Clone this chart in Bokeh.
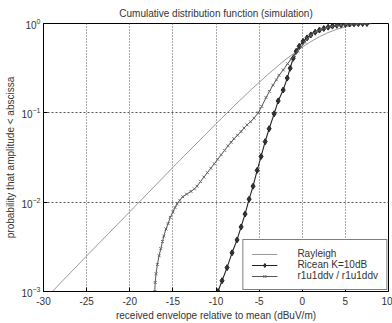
from bokeh.plotting import figure
from bokeh.models import FixedTicker, Range1d, Legend, LegendItem, LogTickFormatter
from bokeh.embed import file_html
from bokeh.resources import INLINE

# Rayleigh reference CDF (envelope relative to its mean, dB)
rayleigh_db = [-30, -25, -20, -15, -10, -8, -6, -4, -2, 0, 1, 2, 3, 4, 5, 6, 7, 8]
rayleigh_p = [0.00079, 0.0025, 0.0078, 0.0245, 0.0755, 0.117, 0.179, 0.268, 0.391,
              0.544, 0.628, 0.712, 0.791, 0.861, 0.917, 0.956, 0.980, 0.993]

# Ricean K=10dB CDF
ricean_db = [-9.77, -9.3, -8.72, -8.14, -7.56, -7.09, -6.63, -6.16, -5.7, -5.23, -4.77,
             -4.3, -3.84, -3.26, -2.79, -2.21, -1.74, -1.4, -1.05, -0.7, -0.35, 0.1,
             0.55, 1.0, 1.5, 2.0, 2.5, 3.0, 3.5, 4.0, 4.5, 5.0, 5.5, 6.0, 6.5, 7.0, 7.5]
ricean_p = [0.0010, 0.00132, 0.00185, 0.00271, 0.00378, 0.00528, 0.00736, 0.0108,
            0.0151, 0.0227, 0.0325, 0.0476, 0.0664, 0.0975, 0.136, 0.180, 0.245, 0.316,
            0.408, 0.489, 0.555, 0.631, 0.69, 0.745, 0.80, 0.845, 0.88, 0.91, 0.935,
            0.955, 0.968, 0.979, 0.987, 0.993, 0.997, 0.999, 1.0]

# measured r1u1ddv / r1u1ddv CDF
meas_db = [-17.1, -17.05, -16.95, -16.8, -16.6, -16.4, -16.2, -16.05, -15.8, -15.55,
           -15.3, -15.0, -14.75, -14.5, -14.2, -13.85, -13.4, -12.9, -12.5, -12.2,
           -11.8, -11.4, -11.0, -10.6, -10.2, -9.8, -9.4, -9.0, -8.6, -8.25, -7.9,
           -7.5, -7.1, -6.75, -6.4, -6.0, -5.6, -5.1, -4.7, -4.2, -3.8, -3.4, -3.0,
           -2.7, -2.2, -1.7, -1.3, -0.9, -0.5, -0.1, 0.3, 0.6, 1.0, 1.3, 1.7, 2.2,
           2.8, 3.4, 4.0, 4.5, 5.1, 5.7, 6.3, 6.9, 7.5]
meas_p = [0.0010, 0.00126, 0.00158, 0.0020, 0.00251, 0.00302, 0.00363, 0.00417,
          0.00501, 0.00575, 0.00676, 0.00776, 0.00871, 0.00955, 0.0105, 0.0115,
          0.0123, 0.0132, 0.0141, 0.0151, 0.0170, 0.0191, 0.0214, 0.0240, 0.0269,
          0.0302, 0.0339, 0.0380, 0.0427, 0.0468, 0.0513, 0.0562, 0.0617, 0.0676,
          0.0733, 0.0794, 0.0871, 0.100, 0.118, 0.148, 0.174, 0.204, 0.234, 0.263,
          0.302, 0.355, 0.398, 0.437, 0.490, 0.550, 0.617, 0.676, 0.733, 0.776,
          0.818, 0.857, 0.895, 0.927, 0.948, 0.962, 0.977, 0.986, 0.993, 0.998, 1.0]

x_ticks = [-30, -25, -20, -15, -10, -5, 0, 5, 10]
x_tick_labels = ["-30", "-25", "-20", "-15", "-10", "-5", "0", "5", "10"]
y_ticks = [0.001, 0.01, 0.1, 1.0]

FONT = "Liberation Sans"
TXT = "#333333"

p = figure(width=392, height=323, x_range=Range1d(-30, 10), y_range=Range1d(0.001, 1.0),
           y_axis_type="log", output_backend="svg", toolbar_location=None,
           min_border_left=43, min_border_right=4, min_border_top=23,
           min_border_bottom=30, background_fill_color="white",
           border_fill_color="white")

p.title.text = "Cumulative distribution function (simulation)"
p.title.align = "center"
p.title.text_font = FONT
p.title.text_font_size = "10px"
p.title.text_font_style = "normal"
p.title.text_color = TXT
p.title.offset = 0
p.title.standoff = 9

p.outline_line_color = "black"
p.outline_line_width = 1

p.xaxis.ticker = FixedTicker(ticks=x_ticks)
p.xaxis.major_label_overrides = {t: s for t, s in zip(x_ticks, x_tick_labels)}
p.yaxis.ticker = FixedTicker(ticks=y_ticks)
p.yaxis.formatter = LogTickFormatter()
for ax in (p.xaxis[0], p.yaxis[0]):
    ax.major_tick_in = 4
    ax.major_tick_out = 0
    ax.minor_tick_in = 0
    ax.minor_tick_out = 0
    ax.axis_line_color = "black"
    ax.major_tick_line_color = "black"
    ax.major_label_text_font = FONT
    ax.major_label_text_font_size = "10px"
    ax.major_label_text_color = TXT
    ax.axis_label_text_font = FONT
    ax.axis_label_text_font_size = "10px"
    ax.axis_label_text_font_style = "normal"
    ax.axis_label_text_color = TXT
p.xaxis.major_label_standoff = 5
p.xaxis.axis_label_standoff = 2
p.yaxis.major_label_standoff = 3
p.yaxis.axis_label_standoff = 2

p.xaxis.axis_label = "received envelope relative to mean (dBuV/m)"
p.yaxis.axis_label = "probability that amplitude < abscissa"

p.xgrid.grid_line_dash = "1 2"
p.ygrid.grid_line_dash = "2 2"
for g in (p.xgrid[0], p.ygrid[0]):
    g.grid_line_color = "#555555"
    g.grid_line_width = 1
    g.minor_grid_line_color = None

r_ray = p.line(rayleigh_db, rayleigh_p, line_color="#9a9a9a", line_width=1)

r_ric_l = p.line(ricean_db, ricean_p, line_color="#222222", line_width=1.1)
r_ric_m = p.scatter(ricean_db, ricean_p, marker="diamond", size=6,
                    fill_color="#333333", line_color="#222222", line_width=1)

r_mea_l = p.line(meas_db, meas_p, line_color="#555555", line_width=1)
r_mea_m = p.scatter(meas_db, meas_p, marker="x", size=4,
                    line_color="#666666", line_width=1)

legend = Legend(items=[
    LegendItem(label="Rayleigh", renderers=[r_ray]),
    LegendItem(label="Ricean K=10dB", renderers=[r_ric_l, r_ric_m]),
    LegendItem(label="r1u1ddv / r1u1ddv", renderers=[r_mea_l, r_mea_m]),
], location="bottom_right")
legend.label_text_font = FONT
legend.label_text_font_size = "10px"
legend.label_text_color = TXT
legend.label_height = 10
legend.glyph_height = 10
legend.glyph_width = 26
legend.label_standoff = 20
legend.spacing = 0
legend.padding = 8
legend.margin = 1
legend.border_line_color = "black"
legend.border_line_width = 1
legend.background_fill_color = "white"
legend.background_fill_alpha = 1.0
p.add_layout(legend)

open("out.html", "w").write(file_html(p, INLINE))
